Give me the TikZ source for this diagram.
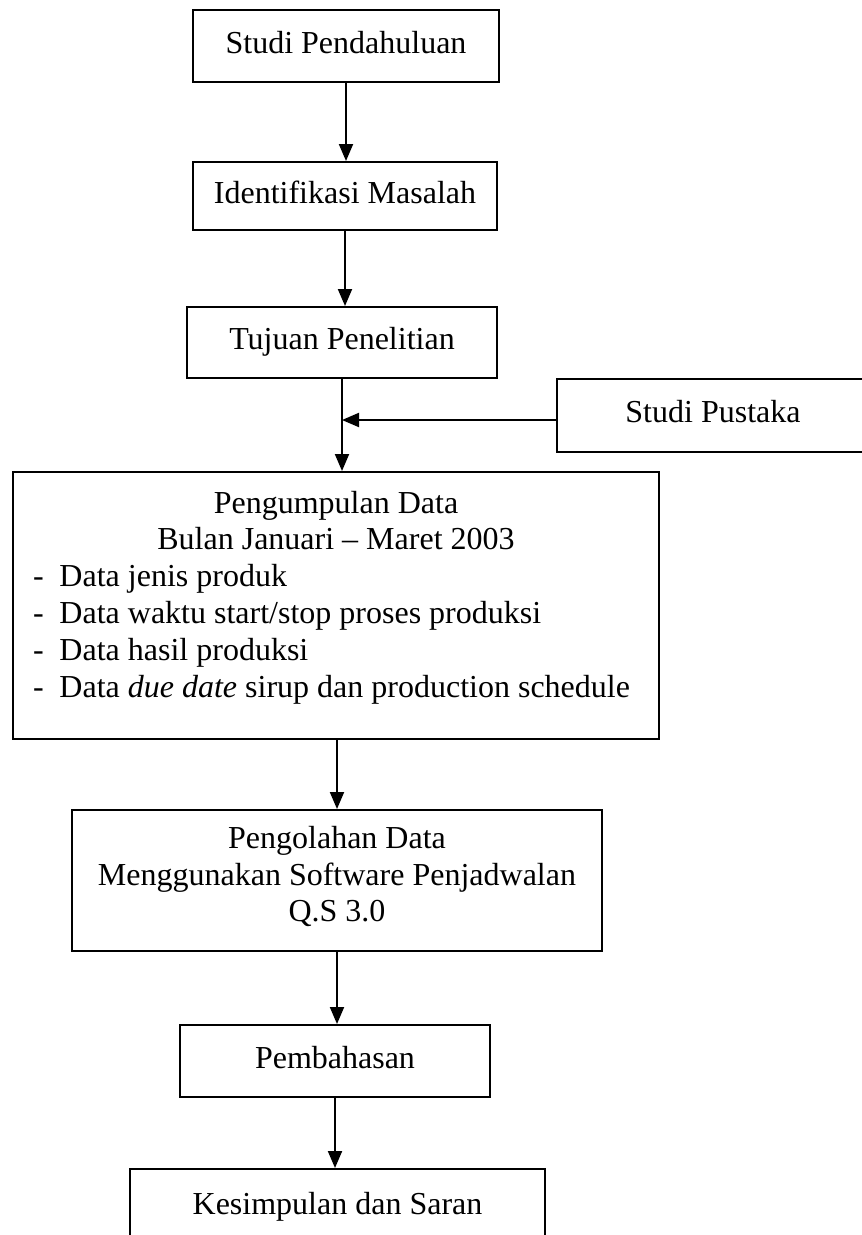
\documentclass[tikz,border=0pt]{standalone}
\usepackage{fontspec}
\setmainfont{Liberation Serif}
\usetikzlibrary{arrows.meta}
\begin{document}
\begin{tikzpicture}[x=1pt,y=-1pt,
  frame/.style={draw, line width=2pt, inner sep=0pt, font=\fontsize{32}{36.8}\selectfont},
  onebox/.style={frame, text height=22.4pt, text depth=8.4pt},
  arr/.style={line width=2pt, -{Triangle[length=17pt,width=14pt]}}]
\useasboundingbox (0,0) rectangle (862,1235);
\clip (0,0) rectangle (862,1235);
\fill[white] (0,0) rectangle (862,1235);
\node[onebox, minimum width=306pt, minimum height=72pt] (b1) at (346,46) {Studi Pendahuluan};
\node[onebox, minimum width=304pt, minimum height=68pt] (b2) at (345,196) {Identifikasi Masalah};
\node[onebox, minimum width=310pt, minimum height=71pt] (b3) at (342,342.5) {Tujuan Penelitian};
\node[onebox, minimum width=312pt, minimum height=73pt] (sp) at (713,415.5) {Studi Pustaka};
\node[frame, align=center, minimum width=646pt, minimum height=267pt] (b4) at (336,605.5)
  {Pengumpulan Data\\
   Bulan Januari – Maret 2003\\
   \makebox[606pt][l]{\makebox[26.5pt][l]{-}Data jenis produk}\\
   \makebox[606pt][l]{\makebox[26.5pt][l]{-}Data waktu start/stop proses produksi}\\
   \makebox[606pt][l]{\makebox[26.5pt][l]{-}Data hasil produksi}\\
   \makebox[606pt][l]{\makebox[26.5pt][l]{-}Data \textit{due date} sirup dan production schedule\rule[-23pt]{0pt}{0pt}}};
\node[frame, align=center, minimum width=530pt, minimum height=141pt] (b5) at (337,880.5)
  {Pengolahan Data\\
   Menggunakan Software Penjadwalan\\
   Q.S 3.0\rule[-13pt]{0pt}{0pt}};
\node[onebox, minimum width=310pt, minimum height=72pt] (b6) at (335,1061) {Pembahasan};
\node[onebox, minimum width=415pt, minimum height=76pt] (b7) at (337.5,1207) {Kesimpulan dan Saran};
\coordinate (m) at (342,420);
\draw[arr] (b1.south) -- (b1.south |- b2.north);
\draw[arr] (b2.south) -- (b2.south |- b3.north);
\draw[arr] (b3.south) -- (b3.south |- b4.north);
\draw[arr] (sp.west |- m) -- (m);
\draw[arr] (b5.north |- b4.south) -- (b5.north);
\draw[arr] (b5.south) -- (b5.south |- b6.north);
\draw[arr] (b6.south) -- (b6.south |- b7.north);
\end{tikzpicture}
\end{document}
